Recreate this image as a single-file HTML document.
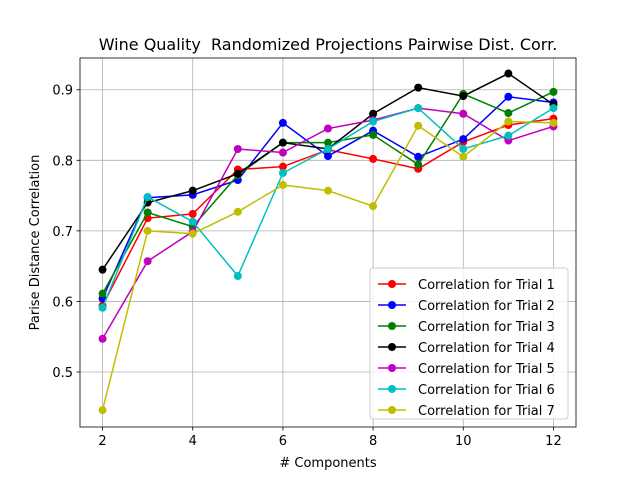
<!DOCTYPE html>
<html><head><meta charset="utf-8"><style>body{margin:0;background:#fff}svg{display:block;font-family:"DejaVu Sans","Liberation Sans",sans-serif}</style></head>
<body>
<svg id="chart" width="640" height="480" viewBox="0 0 640 480"></svg>
<script>
const components = [2,3,4,5,6,7,8,9,10,11,12];
const trial1 = [0.594,0.718,0.724,0.787,0.791,0.815,0.802,0.788,0.826,0.850,0.859];
const trial2 = [0.604,0.747,0.751,0.772,0.853,0.806,0.842,0.805,0.830,0.890,0.882];
const trial3 = [0.611,0.726,0.706,0.779,0.825,0.825,0.836,0.794,0.894,0.867,0.897];
const trial4 = [0.645,0.740,0.757,0.781,0.825,0.816,0.866,0.903,0.891,0.923,0.879];
const trial5 = [0.547,0.657,0.699,0.816,0.811,0.845,0.857,0.874,0.866,0.828,0.848];
const trial6 = [0.591,0.748,0.713,0.636,0.782,0.816,0.855,0.874,0.816,0.835,0.874];
const trial7 = [0.446,0.700,0.696,0.727,0.765,0.757,0.735,0.849,0.805,0.855,0.853];
const seriesLabels = ["Correlation for Trial 1","Correlation for Trial 2","Correlation for Trial 3","Correlation for Trial 4","Correlation for Trial 5","Correlation for Trial 6","Correlation for Trial 7"];
const xTicks = [2,4,6,8,10,12];
const yTicks = [0.5,0.6,0.7,0.8,0.9];

const allSeries=[trial1,trial2,trial3,trial4,trial5,trial6,trial7];
const colors=["#ff0000","#0000ff","#008000","#000000","#bf00bf","#00bfbf","#bfbf00"];
const L=80,R=576,T=58,B=427;
const xmin=1.5,xmax=12.5,ymin=0.422,ymax=0.945;
const xs=v=>L+(v-xmin)/(xmax-xmin)*(R-L);
const ys=v=>B-(v-ymin)/(ymax-ymin)*(B-T);
const svg=document.getElementById('chart');
const NS="http://www.w3.org/2000/svg";
function el(tag,attrs,parent){const e=document.createElementNS(NS,tag);for(const k in attrs)e.setAttribute(k,attrs[k]);(parent||svg).appendChild(e);return e;}

xTicks.forEach(t=>{
  const g=el('line',{x1:xs(t),x2:xs(t),y1:T,y2:B,stroke:'#b0b0b0','stroke-width':0.8});
  
  
  el('line',{x1:xs(t),x2:xs(t),y1:B,y2:B+3.5,stroke:'#000','stroke-width':0.8});
  const tx=el('text',{x:xs(t),y:B+18,'text-anchor':'middle','font-size':13});
  tx.textContent=t;
  
  
});
yTicks.forEach(t=>{
  const g=el('line',{x1:L,x2:R,y1:ys(t),y2:ys(t),stroke:'#b0b0b0','stroke-width':0.8});
  
  
  el('line',{x1:L-3.5,x2:L,y1:ys(t),y2:ys(t),stroke:'#000','stroke-width':0.8});
  const tx=el('text',{x:L-7,y:ys(t)+5,'text-anchor':'end','font-size':13});
  tx.textContent=t.toFixed(1);
  
  
});

allSeries.forEach((s,i)=>{
  const g=el('g',{});
  
  
  el('polyline',{points:s.map((v,j)=>xs(components[j])+','+ys(v)).join(' '),fill:'none',stroke:colors[i],'stroke-width':1.5},g);
  s.forEach((v,j)=>{
    const c=el('circle',{cx:xs(components[j]),cy:ys(v),r:4,fill:colors[i]},g);
    
    
  });
});

const frame=el('rect',{x:L,y:T,width:R-L,height:B-T,fill:'none',stroke:'#000','stroke-width':0.8});



const title=el('text',{x:(L+R)/2,y:50,'text-anchor':'middle','font-size':16});
title.textContent='Wine Quality \u00a0Randomized Projections Pairwise Dist. Corr.';


const xt=el('text',{x:(L+R)/2,y:467,'text-anchor':'middle','font-size':13});
xt.textContent='# Components';


const yt=el('text',{x:0,y:0,'text-anchor':'middle','font-size':13,transform:'translate(39,'+((T+B)/2)+') rotate(-90)'});
yt.textContent='Parise Distance Correlation';



const lg=el('g',{});


el('rect',{x:370,y:268,width:198,height:151,rx:3,fill:'#fff','fill-opacity':0.8,stroke:'#cccccc','stroke-width':1},lg);
seriesLabels.forEach((lab,i)=>{
  const y=284+i*21;
  const e=el('g',{},lg);
  
  
  el('line',{x1:378,x2:406,y1:y,y2:y,stroke:colors[i],'stroke-width':1.5},e);
  el('circle',{cx:392,cy:y,r:4,fill:colors[i]},e);
  const t=el('text',{x:418,y:y+5,'font-size':13},e);
  t.textContent=lab;
});
</script>
</body></html>
